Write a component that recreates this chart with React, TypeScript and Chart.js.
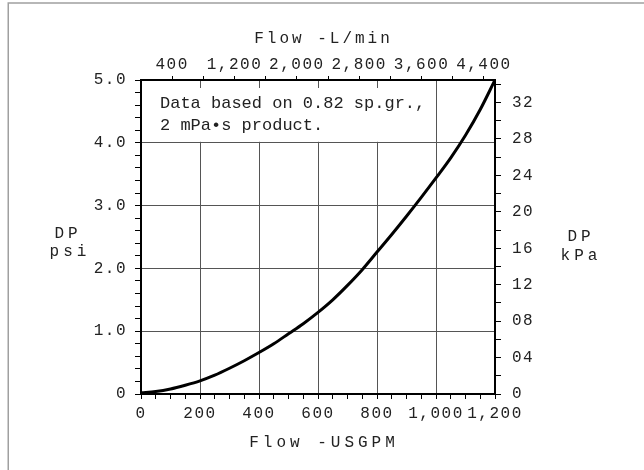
import React, { useEffect, useRef } from "react";
import { Chart, registerables } from "chart.js";

Chart.register(...registerables);

// ---- data ----
const flowUsgpm = [0, 50, 100, 150, 200, 250, 300, 350, 400, 450, 500, 550, 600, 650, 700, 750, 800, 850, 900, 950, 1000, 1050, 1100, 1150, 1200];
const dpPsi = [0.02, 0.04, 0.08, 0.14, 0.21, 0.3, 0.41, 0.53, 0.66, 0.8, 0.96, 1.12, 1.3, 1.5, 1.73, 1.98, 2.26, 2.54, 2.83, 3.13, 3.44, 3.76, 4.12, 4.53, 5.0];

// bottom axis (USGPM)
const usgpmTicks = [0, 50, 100, 150, 200, 250, 300, 350, 400, 450, 500, 550, 600, 650, 700, 750, 800, 850, 900, 950, 1000, 1050, 1100, 1150, 1200];
const usgpmLabels = [0, 200, 400, 600, 800, 1000, 1200];
const usgpmGrid = [200, 400, 600, 800, 1000];

// top axis (L/min)
const lpmTicks = [400, 800, 1200, 1600, 2000, 2400, 2800, 3200, 3600, 4000, 4400];
const lpmLabels = [400, 1200, 2000, 2800, 3600, 4400];

// left axis (psi)
const psiTicks = [0, 0.2, 0.4, 0.6, 0.8, 1, 1.2, 1.4, 1.6, 1.8, 2, 2.2, 2.4, 2.6, 2.8, 3, 3.2, 3.4, 3.6, 3.8, 4, 4.2, 4.4, 4.6, 4.8, 5];
const psiLabelValues = [0, 1, 2, 3, 4, 5];
const psiLabelText = ["0", "1.0", "2.0", "3.0", "4.0", "5.0"];
const psiGrid = [1, 2, 3, 4];

// right axis (kPa)
const kpaTicks = [0, 2, 4, 6, 8, 10, 12, 14, 16, 18, 20, 22, 24, 26, 28, 30, 32, 34];
const kpaLabelValues = [0, 4, 8, 12, 16, 20, 24, 28, 32];
const kpaLabelText = ["0", "04", "08", "12", "16", "20", "24", "28", "32"];

// texts
const topTitle = "Flow -L/min";
const bottomTitle = "Flow -USGPM";
const leftTitle = ["DP", "psi"];
const rightTitle = ["DP", "kPa"];
const noteLines = ["Data based on 0.82 sp.gr.,", "2 mPa\u2022s product."];

const LPM_PER_USGPM = 3.785411784;
const KPA_PER_PSI = 6.894757;

const FONT = '"Liberation Mono", monospace';
const TEXT = "#222";
const GRID = "#555";

const decor = {
  id: "decor",
  beforeUpdate(chart: any) {
    chart.ctx.letterSpacing = "1.5px";
  },
  beforeDraw(chart: any) {
    const ctx = chart.ctx;
    ctx.letterSpacing = "1.5px";
    ctx.save();
    ctx.fillStyle = "#fff";
    ctx.fillRect(0, 0, chart.width, chart.height);
    ctx.strokeStyle = "#a0a0a0";
    ctx.lineWidth = 1.5;
    ctx.beginPath();
    ctx.moveTo(8.25, chart.height);
    ctx.lineTo(8.25, 3);
    ctx.lineTo(chart.width, 3);
    ctx.stroke();
    ctx.restore();
  },
  beforeDatasetsDraw(chart: any) {
    const { ctx, chartArea, scales } = chart;
    const x1 = chartArea.left + 1.5;
    const x2 = scales.x.getPixelForValue(1000) - 3;
    const y1 = chartArea.top + 8;
    const y2 = scales.y.getPixelForValue(4) - 1;
    ctx.save();
    ctx.fillStyle = "#fff";
    ctx.fillRect(x1, y1, x2 - x1, y2 - y1);
    ctx.font = `17px ${FONT}`;
    ctx.letterSpacing = "0px";
    ctx.fillStyle = TEXT;
    ctx.textAlign = "left";
    ctx.textBaseline = "alphabetic";
    ctx.fillText(noteLines[0], chartArea.left + 19, chartArea.top + 28);
    ctx.fillText(noteLines[1], chartArea.left + 19, chartArea.top + 50);
    ctx.restore();
  },
  afterDraw(chart: any) {
    const ctx = chart.ctx;
    ctx.save();
    ctx.font = `16px ${FONT}`;
    ctx.fillStyle = TEXT;
    ctx.textAlign = "center";
    ctx.textBaseline = "alphabetic";
    ctx.letterSpacing = "3px";
    ctx.fillText(topTitle, 322 + 1.5, 43);
    ctx.letterSpacing = "4px";
    ctx.fillText(bottomTitle, 322 + 2, 447);
    ctx.fillText(leftTitle[0], 66 + 2, 238);
    ctx.fillText(leftTitle[1], 68 + 2, 256);
    ctx.fillText(rightTitle[0], 579 + 2, 241);
    ctx.fillText(rightTitle[1], 579 + 2, 260);
    ctx.restore();
  },
};

export default function App() {
  const ref = useRef<HTMLCanvasElement | null>(null);

  useEffect(() => {
    if (!ref.current) return;
    Chart.defaults.font.family = FONT;
    Chart.defaults.font.size = 16;
    Chart.defaults.color = TEXT;

    const chart = new Chart(ref.current, {
      type: "line",
      data: {
        datasets: [
          {
            data: flowUsgpm.map((x, i) => ({ x, y: dpPsi[i] })),
            borderColor: "#000",
            borderWidth: 3,
            pointRadius: 0,
            cubicInterpolationMode: "monotone",
            fill: false,
            xAxisID: "x",
            yAxisID: "y",
          },
        ],
      },
      options: {
        responsive: false,
        devicePixelRatio: 1,
        animation: false,
        layout: { padding: 0 },
        plugins: { legend: { display: false }, tooltip: { enabled: false } },
        scales: {
          x: {
            type: "linear",
            position: "bottom",
            min: 0,
            max: 1200,
            afterBuildTicks: (s: any) => {
              s.ticks = usgpmTicks.map((v) => ({ value: v }));
            },
            afterFit: (s: any) => {
              s.height = 76;
            },
            grid: {
              color: (c: any) => (c.tick && usgpmGrid.includes(c.tick.value) ? GRID : "rgba(0,0,0,0)"),
              lineWidth: 1,
              tickColor: "#000",
              tickLength: 5,
              tickWidth: 1,
            },
            border: { display: true, color: "#000", width: 2 },
            ticks: {
              autoSkip: false,
              maxRotation: 0,
              padding: 5,
              color: TEXT,
              callback: (v: any) => (usgpmLabels.includes(v) ? Number(v).toLocaleString("en-US") : ""),
            },
          },
          x2: {
            type: "linear",
            position: "top",
            min: 0,
            max: 1200 * LPM_PER_USGPM,
            afterBuildTicks: (s: any) => {
              s.ticks = lpmTicks.map((v) => ({ value: v }));
            },
            afterFit: (s: any) => {
              s.height = 80;
            },
            grid: { drawOnChartArea: false, tickColor: "#000", tickLength: 4, tickWidth: 1 },
            border: { display: true, color: "#000", width: 2 },
            ticks: {
              autoSkip: false,
              maxRotation: 0,
              padding: 2,
              color: TEXT,
              callback: (v: any) => (lpmLabels.includes(v) ? Number(v).toLocaleString("en-US") : ""),
            },
          },
          y: {
            type: "linear",
            position: "left",
            min: 0,
            max: 5,
            afterBuildTicks: (s: any) => {
              s.ticks = psiTicks.map((v) => ({ value: v }));
            },
            afterFit: (s: any) => {
              s.width = 141;
            },
            grid: {
              color: (c: any) => (c.tick && psiGrid.includes(c.tick.value) ? GRID : "rgba(0,0,0,0)"),
              lineWidth: 1,
              tickColor: "#000",
              tickLength: 6,
              tickWidth: 1,
            },
            border: { display: true, color: "#000", width: 2 },
            ticks: {
              autoSkip: false,
              padding: 8,
              color: TEXT,
              callback: (v: any) => {
                const i = psiLabelValues.indexOf(v);
                return i >= 0 ? psiLabelText[i] : "";
              },
            },
          },
          y2: {
            type: "linear",
            position: "right",
            min: 0,
            max: 5 * KPA_PER_PSI,
            afterBuildTicks: (s: any) => {
              s.ticks = kpaTicks.map((v) => ({ value: v }));
            },
            afterFit: (s: any) => {
              s.width = 149;
            },
            grid: { drawOnChartArea: false, tickColor: "#000", tickLength: 6, tickWidth: 1 },
            border: { display: true, color: "#000", width: 2 },
            ticks: {
              autoSkip: false,
              padding: 11,
              color: TEXT,
              callback: (v: any) => {
                const i = kpaLabelValues.indexOf(v);
                return i >= 0 ? kpaLabelText[i] : "";
              },
            },
          },
        },
      } as any,
      plugins: [decor],
    });

    return () => chart.destroy();
  }, []);

  return (
    <div style={{ position: "absolute", left: 0, top: 0, width: 644, height: 470, background: "#fff" }}>
      <canvas ref={ref} width={644} height={470} style={{ display: "block", width: 644, height: 470 }} />
    </div>
  );
}
